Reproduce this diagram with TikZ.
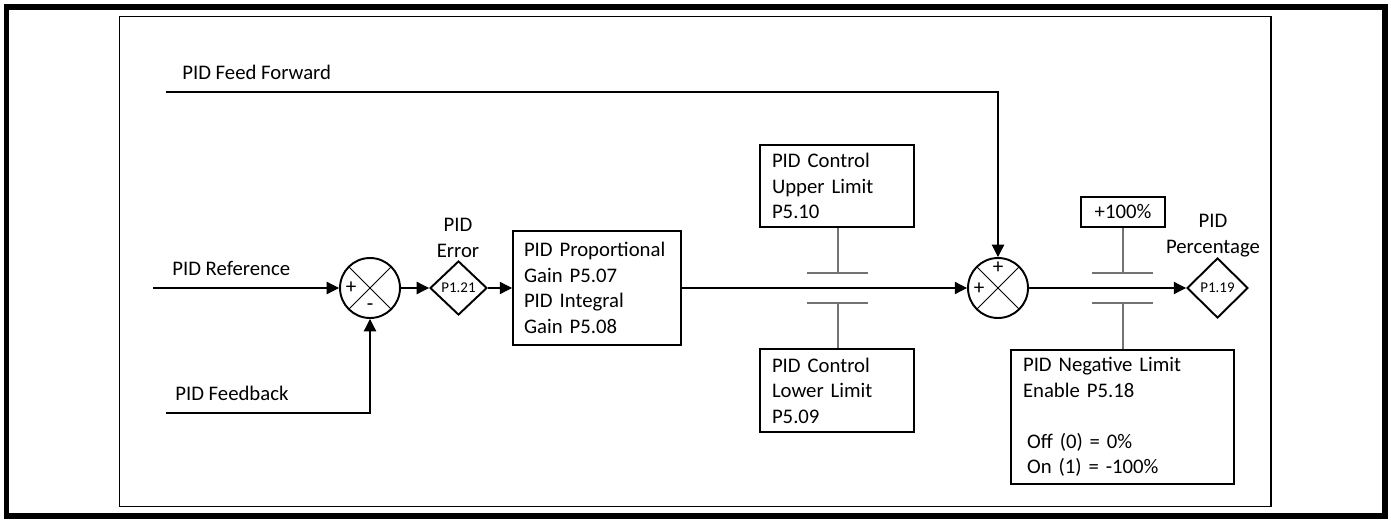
\documentclass[tikz,border=0pt]{standalone}
\usepackage{fontspec}
\setmainfont{Carlito}
\usepackage{tikz}
\usetikzlibrary{
  shapes.geometric,
  arrows.meta,
  positioning
}

\begin{document}
\begin{tikzpicture}[
  x=0.02cm, y=-0.02cm,
  font=\fontsize{11.8}{14.5}\selectfont,
  box/.style={rectangle, draw=black, line width=1.1pt, align=left, inner ysep=0pt, inner xsep=#1},
  box/.default=0.24cm,
  sumjunct/.style={circle, draw=black, line width=1.1pt, minimum size=1.2cm, inner sep=0pt,
    path picture={\draw[line width=0.5pt] (path picture bounding box.north west) -- (path picture bounding box.south east)
      (path picture bounding box.south west) -- (path picture bounding box.north east);}},
  param/.style={diamond, draw=black, line width=1.1pt, inner sep=0pt, font=\fontsize{8.5}{10}\selectfont},
  arrow/.style={-{Triangle[length=7pt, width=7pt]}, line width=0.6pt, color=black},
  signal/.style={line width=0.6pt, color=black},
  limit/.style={line width=0.6pt, color=black!55},
  sign/.style={inner sep=0pt, font=\fontsize{12}{14}\selectfont}
]
\useasboundingbox (0,0) rectangle (1391,520);

% Frames
\draw[line width=3.4pt] (6.5,7) rectangle (1385,516);
\draw[line width=0.9pt] (119.5,16.5) rectangle (1271,506.5);

% Input labels and free ends
\node[anchor=west, inner sep=0pt] (fflabel) at (182,72) {PID Feed Forward};
\node[anchor=west, inner sep=0pt] (reflabel) at (172,268) {PID Reference};
\node[anchor=west, inner sep=0pt] (fblabel) at (175,393) {PID Feedback};
\coordinate (ffstart) at (166,92);
\coordinate (refstart) at (153,288);
\coordinate (fbstart) at (166,413);

% Summing junctions
\node[sumjunct] (sumA) at (370,288) {};
\node[sign] (sumAplus) at (351,288) {+};
\node[sign] (sumAminus) at (370,307) {-};
\node[sumjunct] (sumB) at (998,288) {};
\node[sign] (sumBtop) at (998,268) {+};
\node[sign] (sumBleft) at (979,289) {+};

% Parameters
\node[param, minimum width=1.14cm, minimum height=1.08cm] (err) at (458.5,288) {P1.21};
\node[align=center, inner sep=0pt] (errlabel) at (458,238) {PID\\Error};
\node[param, minimum width=1.22cm, minimum height=1.2cm] (pct) at (1217.5,288) {P1.19};
\node[align=center, inner sep=0pt] (pctlabel) at (1213,235.5) {PID\\Percentage};

% Boxes
\node[box=0.22cm, minimum width=3.36cm, minimum height=2.28cm, text width=2.92cm] (pi) at (597,288)
  {PID Proportional\\Gain P5.07\\PID Integral\\Gain P5.08};
\node[box, minimum width=3.08cm, minimum height=1.64cm, text width=2.6cm] (upper) at (837,186)
  {PID Control\\Upper Limit\\P5.10};
\node[box, minimum width=3.08cm, minimum height=1.66cm, text width=2.6cm] (lower) at (837,390.5)
  {PID Control\\Lower Limit\\P5.09};
\node[box, align=center, minimum width=1.68cm, minimum height=0.6cm] (plus100) at (1123,212) {+100\%};
\node[box, minimum width=4.46cm, minimum height=2.68cm, text width=3.98cm] (neg) at (1122.5,417)
  {PID Negative Limit\\Enable P5.18\\[14.5pt]\hspace*{0.08cm}Off (0) = 0\%\\\hspace*{0.08cm}On (1) = -100\%};

% Limit bars
\coordinate (limAup) at (838,273);
\coordinate (limAdn) at (838,303);
\coordinate (limBup) at (1123,273);
\coordinate (limBdn) at (1123,303);
\draw[limit] (upper.south -| limAup) -- (limAup);
\draw[limit] (807,273) -- (868,273);
\draw[limit] (807,303) -- (868,303);
\draw[limit] (limAdn) -- (lower.north -| limAdn);
\draw[limit] (plus100.south -| limBup) -- (limBup);
\draw[limit] (1092,273) -- (1153,273);
\draw[limit] (1092,303) -- (1153,303);
\draw[limit] (limBdn) -- (neg.north -| limBdn);

% Signal path
\draw[arrow] (refstart) -- (sumA.west);
\draw[arrow] (fbstart) -| (sumA.south);
\draw[arrow] (sumA.east) -- (err.west);
\draw[arrow] (err.east) -- (pi.west);
\draw[arrow] (pi.east) -- (sumB.west);
\draw[arrow] (ffstart) -| (sumB.north);
\draw[arrow] (sumB.east) -- (pct.west);

\end{tikzpicture}
\end{document}
